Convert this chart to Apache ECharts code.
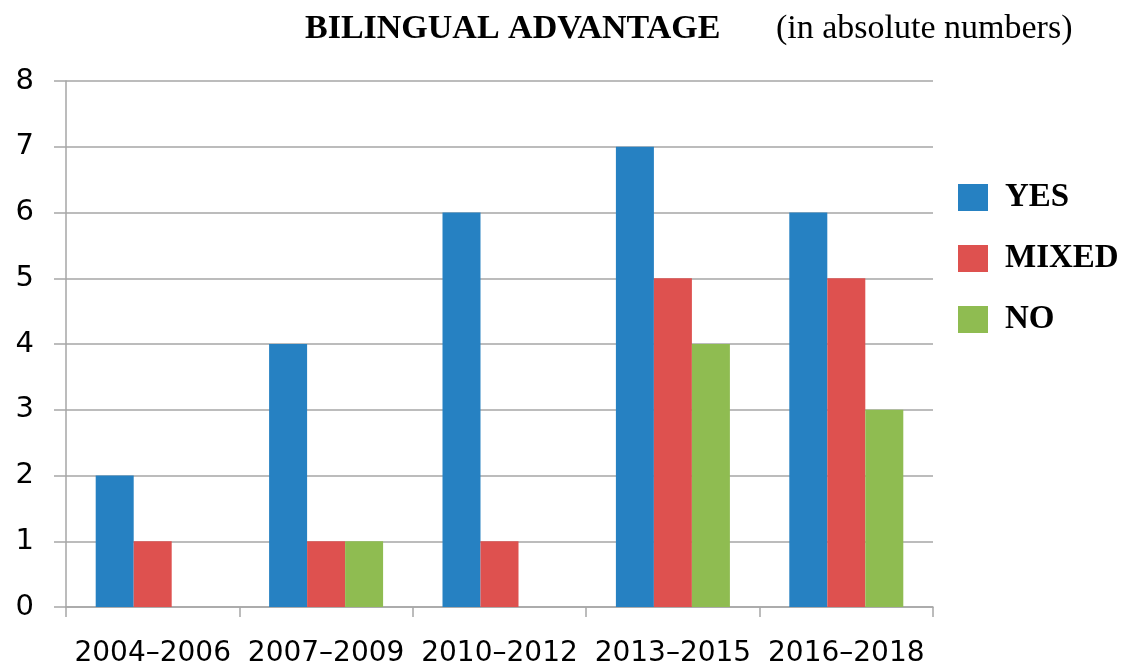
<!DOCTYPE html>
<html>
<head>
<meta charset="utf-8">
<script src="https://cdn.jsdelivr.net/npm/echarts@6/dist/echarts.min.js"></script>
<style>
  html, body { margin: 0; padding: 0; background: #fff; }
  #chart { width: 1126px; height: 668px; }
</style>
</head>
<body>
<div id="chart"></div>
<script>
const periods = ['2004\u20132006', '2007\u20132009', '2010\u20132012', '2013\u20132015', '2016\u20132018']
const yesCounts = [2, 4, 6, 7, 6]
const mixedCounts = [1, 1, 1, 5, 5]
const noCounts = [0, 1, 0, 4, 3]

const colors = { yes: '#2681c2', mixed: '#de514f', no: '#8fbc51' }
const gridGray = '#a6a6a6'
const serif = '"Liberation Serif", "Times New Roman", serif'
const sans = '"DejaVu Sans", Verdana, sans-serif'

const chart = echarts.init(document.getElementById('chart'))

const bar = (name, data, color) => ({
  name,
  type: 'bar',
  data,
  barWidth: 38,
  barGap: '0%',
  itemStyle: { color },
  animation: false
})

chart.setOption({
  title: [
    {
      text: 'BILINGUAL ADVANTAGE',
      left: 300,
      top: 7,
      textStyle: { fontFamily: serif, fontSize: 34, fontWeight: 'bold', color: '#000' }
    },
    {
      text: '(in absolute numbers)',
      left: 771,
      top: 7,
      textStyle: { fontFamily: serif, fontSize: 34, fontWeight: 'normal', color: '#000' }
    }
  ],
  legend: {
    orient: 'vertical',
    left: 958,
    top: 181,
    padding: 0,
    itemWidth: 30,
    itemHeight: 27,
    itemGap: 28,
    icon: 'rect',
    textStyle: { fontFamily: serif, fontSize: 33, fontWeight: 'bold', color: '#000', padding: [0, 0, 0, 12] },
    data: ['YES', 'MIXED', 'NO']
  },
  grid: { left: 66, right: 193, top: 81, bottom: 59 },
  xAxis: {
    type: 'category',
    data: periods,
    axisLine: { lineStyle: { color: gridGray, width: 1.5 } },
    axisTick: { show: true, length: 10, lineStyle: { color: gridGray, width: 1.5 } },
    axisLabel: { interval: 0, color: '#000', fontFamily: sans, fontSize: 28, margin: 33 }
  },
  yAxis: {
    type: 'value',
    min: 0,
    max: 8,
    interval: 1,
    axisLine: { show: true, lineStyle: { color: gridGray, width: 1.5 } },
    axisTick: { show: true, length: 12, lineStyle: { color: gridGray, width: 1.5 } },
    splitLine: { lineStyle: { color: gridGray, width: 1.5 } },
    axisLabel: { color: '#000', fontFamily: sans, fontSize: 29, margin: 32 }
  },
  series: [
    bar('YES', yesCounts, colors.yes),
    bar('MIXED', mixedCounts, colors.mixed),
    bar('NO', noCounts, colors.no)
  ]
})
</script>
</body>
</html>
